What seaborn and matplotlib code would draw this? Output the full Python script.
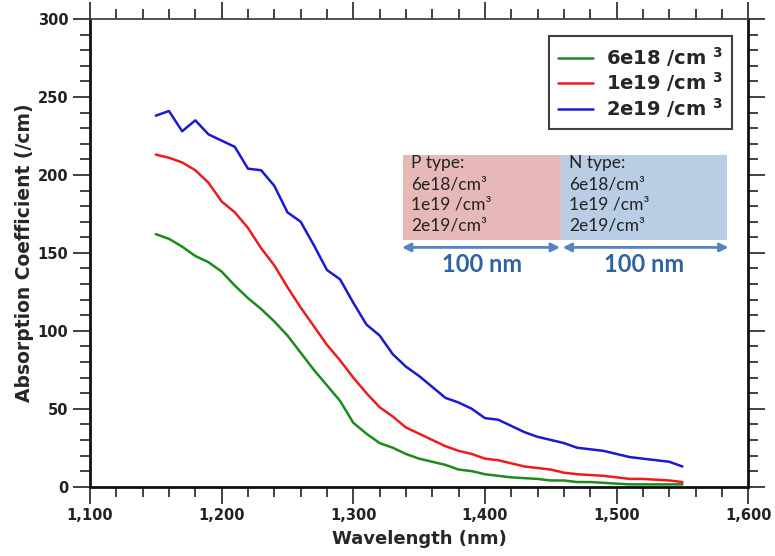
import numpy as np
import pandas as pd
import matplotlib
matplotlib.use("Agg")
import matplotlib.pyplot as plt
import seaborn as sns
from matplotlib.ticker import MultipleLocator, FuncFormatter
from matplotlib.patches import Rectangle

# Wavelength grid (nm)
wavelength = list(range(1150, 1551, 10))

# Absorption coefficient (/cm) for each doping level
alpha_6e18 = [162, 159, 154, 148, 144, 138, 129, 121, 114, 106,
              97, 86, 75, 65, 55, 41, 34, 28, 25, 21,
              18, 16, 14, 11, 10, 8, 7, 6, 5.5, 5,
              4, 4, 3, 3, 2.5, 2, 1.5, 1.5, 1.5, 1.5, 1.5]
alpha_1e19 = [213, 211, 208, 203, 195, 183, 176, 166, 153, 142,
              128, 115, 103, 91, 81, 70, 60, 51, 45, 38,
              34, 30, 26, 23, 21, 18, 17, 15, 13, 12,
              11, 9, 8, 7.5, 7, 6, 5, 5, 4.5, 4, 3]
alpha_2e19 = [238, 241, 228, 235, 226, 222, 218, 204, 203, 193,
              176, 170, 155, 139, 133, 118, 104, 97, 85, 77,
              71, 64, 57, 54, 50, 44, 43, 39, 35, 32,
              30, 28, 25, 24, 23, 21, 19, 18, 17, 16, 13]

series_labels = [r"6e18 /cm $^{\mathbf{3}}$", r"1e19 /cm $^{\mathbf{3}}$", r"2e19 /cm $^{\mathbf{3}}$"]
series_colors = ["#1e8a1e", "#ee1c1c", "#1a1ad0"]

p_text = "P type:\n6e18/cm³\n1e19 /cm³\n2e19/cm³"
n_text = "N type:\n6e18/cm³\n1e19 /cm³\n2e19/cm³"
width_label = "100 nm"

# long-form table for seaborn
frames = []
for lab, vals in zip(series_labels, [alpha_6e18, alpha_1e19, alpha_2e19]):
    frames.append(pd.DataFrame({"wl": wavelength, "alpha": vals, "doping": lab}))
df = pd.concat(frames, ignore_index=True)

sns.set_style("ticks")
plt.rcParams["font.family"] = ["DejaVu Sans"]
plt.rcParams["font.sans-serif"] = ["DejaVu Sans"]
plt.rcParams["mathtext.fontset"] = "dejavusans"
plt.rcParams["mathtext.default"] = "bf"
main_font = "DejaVu Sans"

fig = plt.figure(figsize=(7.75, 5.56), dpi=100)
ax = fig.add_axes([0.1161, 0.1246, 0.8494, 0.8412])

sns.lineplot(data=df, x="wl", y="alpha", hue="doping",
             palette=dict(zip(series_labels, series_colors)),
             linewidth=1.8, ax=ax)

ax.set_xlim(1100, 1600)
ax.set_ylim(0, 300)
ax.xaxis.set_major_locator(MultipleLocator(100))
ax.xaxis.set_minor_locator(MultipleLocator(20))
ax.yaxis.set_major_locator(MultipleLocator(50))
ax.yaxis.set_minor_locator(MultipleLocator(10))
ax.xaxis.set_major_formatter(FuncFormatter(lambda v, p: f"{int(v):,}"))
ax.tick_params(which="both", direction="out", top=True, right=True,
               colors="#222222", width=1.2)
ax.tick_params(which="major", length=12, labelsize=10.5)
ax.tick_params(which="minor", length=7)
for lbl in ax.get_xticklabels() + ax.get_yticklabels():
    lbl.set_fontweight("bold")
    lbl.set_fontfamily(main_font)

for side in ["left", "bottom", "right"]:
    ax.spines[side].set_linewidth(2)
    ax.spines[side].set_color("#111111")
ax.spines["top"].set_linewidth(1.3)
ax.spines["top"].set_color("#444444")

ax.set_xlabel("Wavelength (nm)", fontsize=13, fontweight="bold", labelpad=5,
              fontfamily=main_font)
ax.set_ylabel("Absorption Coefficient (/cm)", fontsize=13.5, fontweight="bold",
              labelpad=3, fontfamily=main_font)

leg = ax.legend(loc="upper right", bbox_to_anchor=(0.9757, 0.9637), borderaxespad=0,
                prop={"weight": "bold", "size": 14, "family": main_font},
                handlelength=1.8, fancybox=False, frameon=True, labelspacing=0.1,
                borderpad=0.45, handletextpad=0.7)
leg.get_frame().set_edgecolor("#111111")
leg.get_frame().set_linewidth(1.5)
for line in leg.get_lines():
    line.set_linewidth(1.8)

# layer stack annotation (layout)
p_left, mid, n_right = 1338, 1458, 1584
box_low, box_high = 158, 213
ax.add_patch(Rectangle((p_left, box_low), mid - p_left, box_high - box_low,
                       facecolor="#e6b9b8", edgecolor="none", zorder=1))
ax.add_patch(Rectangle((mid, box_low), n_right - mid, box_high - box_low,
                       facecolor="#b9cde5", edgecolor="none", zorder=1))
txt_font = dict(family=["Lato", "DejaVu Sans"], fontsize=12.5, color="#222222",
                va="top", ha="left", linespacing=1.36, zorder=2)
ax.text(p_left + 6, box_high - 0.5, p_text, **txt_font)
ax.text(mid + 6, box_high - 0.5, n_text, **txt_font)

arrow_y = 153.5
arrow_props = dict(arrowstyle="<|-|>,head_length=0.5,head_width=0.25",
                   color="#5585c0", lw=2, shrinkA=0, shrinkB=0)
ax.annotate("", xy=(p_left - 1, arrow_y), xytext=(mid - 1, arrow_y), arrowprops=arrow_props)
ax.annotate("", xy=(mid + 1, arrow_y), xytext=(n_right + 1, arrow_y), arrowprops=arrow_props)
lab_font = dict(family=["Lato", "DejaVu Sans"], fontsize=17, color="#2f62a0",
                ha="center", va="center", fontweight="bold")
ax.text((p_left + mid) / 2, 142.5, width_label, **lab_font)
ax.text((mid + n_right) / 2, 142.5, width_label, **lab_font)

fig.savefig("out.png", dpi=100)
